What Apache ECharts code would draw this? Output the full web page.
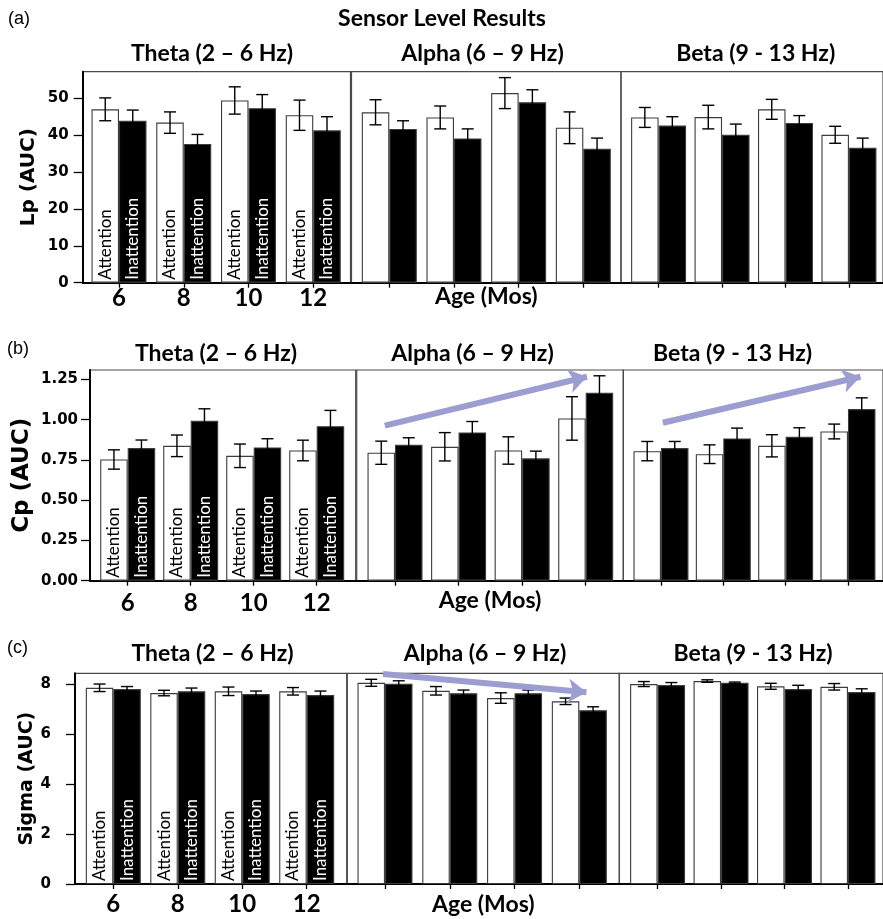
<!DOCTYPE html>
<html><head><meta charset="utf-8">
<script src="https://cdn.jsdelivr.net/npm/echarts@6/dist/echarts.min.js"></script>
<style>html,body{margin:0;padding:0;background:#fff}#c{width:883px;height:919px}</style>
</head><body><div id="c"></div>
<script>
// ---------------- DATA ----------------
const ages = ['6', '8', '10', '12'];
const groupNames = ['Attention', 'Inattention'];
const bandTitles = ['Theta (2 \u2013 6 Hz)', 'Alpha (6 \u2013 9 Hz)', 'Beta (9 - 13 Hz)'];

// (a) Lp (AUC)
const lpThetaAtt = [47.0, 43.4, 49.4, 45.4];   const lpThetaAttErr = [3.1, 2.9, 3.7, 4.1];
const lpThetaIn  = [43.9, 37.6, 47.3, 41.3];   const lpThetaInErr  = [2.9, 2.6, 3.7, 3.7];
const lpAlphaAtt = [46.2, 44.8, 51.4, 42.0];   const lpAlphaAttErr = [3.4, 3.1, 4.2, 4.3];
const lpAlphaIn  = [41.7, 39.1, 48.9, 36.3];   const lpAlphaInErr  = [2.2, 2.6, 3.4, 2.9];
const lpBetaAtt  = [44.8, 44.9, 47.0, 40.1];   const lpBetaAttErr  = [2.7, 3.2, 2.7, 2.3];
const lpBetaIn   = [42.6, 40.1, 43.3, 36.6];   const lpBetaInErr   = [2.4, 2.9, 2.0, 2.6];
const lpTicks = [0, 10, 20, 30, 40, 50];

// (b) Cp (AUC)
const cpThetaAtt = [0.753, 0.838, 0.776, 0.809]; const cpThetaAttErr = [0.060, 0.067, 0.073, 0.064];
const cpThetaIn  = [0.824, 0.993, 0.828, 0.960]; const cpThetaInErr  = [0.050, 0.075, 0.054, 0.098];
const cpAlphaAtt = [0.795, 0.832, 0.809, 1.008]; const cpAlphaAttErr = [0.072, 0.088, 0.085, 0.135];
const cpAlphaIn  = [0.844, 0.921, 0.760, 1.167]; const cpAlphaInErr  = [0.044, 0.068, 0.045, 0.106];
const cpBetaAtt  = [0.805, 0.786, 0.838, 0.927]; const cpBetaAttErr  = [0.060, 0.058, 0.069, 0.046];
const cpBetaIn   = [0.824, 0.884, 0.894, 1.066]; const cpBetaInErr   = [0.041, 0.064, 0.056, 0.070];
const cpTicks = [0, 0.25, 0.5, 0.75, 1.0, 1.25];
const cpAlphaArrow = [[-0.16, 0.963], [3.02, 1.267]];
const cpBetaArrow  = [[0.03, 0.981], [3.20, 1.267]];

// (c) Sigma (AUC)
const sgThetaAtt = [7.85, 7.64, 7.71, 7.71]; const sgThetaAttErr = [0.15, 0.11, 0.17, 0.15];
const sgThetaIn  = [7.80, 7.71, 7.60, 7.56]; const sgThetaInErr  = [0.10, 0.13, 0.12, 0.16];
const sgAlphaAtt = [8.05, 7.73, 7.44, 7.31]; const sgAlphaAttErr = [0.14, 0.17, 0.21, 0.13];
const sgAlphaIn  = [8.01, 7.63, 7.63, 6.95]; const sgAlphaInErr  = [0.12, 0.13, 0.13, 0.14];
const sgBetaAtt  = [8.00, 8.12, 7.91, 7.89]; const sgBetaAttErr  = [0.10, 0.05, 0.12, 0.13];
const sgBetaIn   = [7.96, 8.05, 7.80, 7.68]; const sgBetaInErr   = [0.10, 0.03, 0.15, 0.13];
const sgTicks = [0, 2, 4, 6, 8];
const sgAlphaArrow = [[-0.03, 8.40], [3.11, 7.67]];

// ---------------- LAYOUT ----------------
const rows = [
  { label: '(a)', labelPos: [8, 19], name: 'Lp (AUC)', nameSize: 20, nameGap: 44,
    top: 71.7, bottom: 282.7, max: 57.2, ticks: lpTicks, dec: 0, tickMargin: 14,
    xMargin: 4, ageGap: 2, titleY: 54,
    panels: [
      { att: lpThetaAtt, attE: lpThetaAttErr, inn: lpThetaIn, innE: lpThetaInErr, L: 82.7, R: 350.5, t0: 119, sp: 64.75, tx: 212 },
      { att: lpAlphaAtt, attE: lpAlphaAttErr, inn: lpAlphaIn, innE: lpAlphaInErr, L: 351.5, R: 621, t0: 389.3, sp: 64.67, tx: 482.5 },
      { att: lpBetaAtt, attE: lpBetaAttErr, inn: lpBetaIn, innE: lpBetaInErr, L: 621, R: 888, t0: 659.3, sp: 64.67, tx: 755.7 }
    ] },
  { label: '(b)', labelPos: [7, 349], name: 'Cp (AUC)', nameSize: 23, nameGap: 56,
    top: 370, bottom: 580.7, max: 1.309, ticks: cpTicks, dec: 2, tickMargin: 12,
    xMargin: 11, ageGap: 8, titleY: 354,
    panels: [
      { att: cpThetaAtt, attE: cpThetaAttErr, inn: cpThetaIn, innE: cpThetaInErr, L: 90, R: 355.7, t0: 127.7, sp: 63.0, tx: 216 },
      { att: cpAlphaAtt, attE: cpAlphaAttErr, inn: cpAlphaIn, innE: cpAlphaInErr, L: 356.7, R: 623.3, t0: 395, sp: 63.57, tx: 472.5, arrow: cpAlphaArrow },
      { att: cpBetaAtt, attE: cpBetaAttErr, inn: cpBetaIn, innE: cpBetaInErr, L: 623.3, R: 888, t0: 661.7, sp: 63.53, tx: 732.5, arrow: cpBetaArrow }
    ] },
  { label: '(c)', labelPos: [7, 648], name: 'Sigma (AUC)', nameSize: 19, nameGap: 36,
    top: 673.3, bottom: 884, max: 8.43, ticks: sgTicks, dec: 0, tickMargin: 24,
    xMargin: 8, ageGap: 9, titleY: 654,
    panels: [
      { att: sgThetaAtt, attE: sgThetaAttErr, inn: sgThetaIn, innE: sgThetaInErr, L: 75, R: 346.7, t0: 113.3, sp: 64.47, tx: 212.5 },
      { att: sgAlphaAtt, attE: sgAlphaAttErr, inn: sgAlphaIn, innE: sgAlphaInErr, L: 347.3, R: 619.3, t0: 385, sp: 64.77, tx: 485, arrow: sgAlphaArrow },
      { att: sgBetaAtt, attE: sgBetaAttErr, inn: sgBetaIn, innE: sgBetaInErr, L: 619.3, R: 888, t0: 658.3, sp: 64.67, tx: 753 }
    ] }
];

const BAR_W = 27.5;
const CAP = 6;
const ARROW_COLOR = '#9c9dd0';
const TITLE_FONT = 'Lato';

const grids = [], xAxes = [], yAxes = [], series = [], graphics = [];

graphics.push({ type: 'text', x: 442, y: 19, style: { text: 'Sensor Level Results', font: 'bold 23px ' + TITLE_FONT, fill: '#000', align: 'center', verticalAlign: 'middle' } });

function errSeries(gi, vals, errs, offset) {
  return {
    type: 'custom', xAxisIndex: gi, yAxisIndex: gi, z: 4, silent: true, animation: false,
    data: vals.map((v, i) => [i, v, errs[i]]),
    encode: { x: 0, y: 1 },
    renderItem: function (params, api) {
      const x = api.value(0), m = api.value(1), e = api.value(2);
      const hi = api.coord([x, m + e]);
      const lo = api.coord([x, m - e]);
      const cx = hi[0] + offset;
      const st = { stroke: '#000', lineWidth: 1.4 };
      return { type: 'group', children: [
        { type: 'line', shape: { x1: cx, y1: hi[1], x2: cx, y2: lo[1] }, style: st },
        { type: 'line', shape: { x1: cx - CAP, y1: hi[1], x2: cx + CAP, y2: hi[1] }, style: st },
        { type: 'line', shape: { x1: cx - CAP, y1: lo[1], x2: cx + CAP, y2: lo[1] }, style: st }
      ] };
    }
  };
}

rows.forEach((row, r) => {
  graphics.push({ type: 'text', x: row.labelPos[0], y: row.labelPos[1], style: { text: row.label, font: '18px "Liberation Sans"', fill: '#000', align: 'left', verticalAlign: 'middle' } });
  row.panels.forEach((p, c) => {
    const gi = r * 3 + c;
    grids.push({ left: p.L, top: row.top, width: p.R - p.L, height: row.bottom - row.top,
      show: true, borderColor: '#4a4a4a', borderWidth: 1.2, backgroundColor: 'transparent' });
    graphics.push({ type: 'text', x: p.tx, y: row.titleY, style: { text: bandTitles[c], font: 'bold 23px ' + TITLE_FONT, fill: '#000', align: 'center', verticalAlign: 'middle' } });
    xAxes.push({
      type: 'value', gridIndex: gi,
      min: (p.L - p.t0) / p.sp, max: (p.R - p.t0) / p.sp,
      axisLine: { show: true, onZero: false, lineStyle: { color: '#000', width: 2 } },
      axisTick: { show: true, customValues: [0, 1, 2, 3], length: 5, lineStyle: { color: '#000', width: 1.3 } },
      axisLabel: { show: c === 0, customValues: [0, 1, 2, 3], formatter: v => ages[Math.round(v)],
        fontFamily: TITLE_FONT, fontWeight: 'bold', fontSize: 24, color: '#000', margin: row.xMargin },
      splitLine: { show: false },
      name: c === 1 ? 'Age (Mos)' : '', nameLocation: 'middle', nameGap: row.ageGap,
      nameTextStyle: { fontFamily: TITLE_FONT, fontWeight: 'bold', fontSize: 23, color: '#000', verticalAlign: 'top' }
    });
    yAxes.push({
      type: 'value', gridIndex: gi, min: 0, max: row.max,
      axisLine: { show: c === 0, onZero: false, lineStyle: { color: '#000', width: 2 } },
      axisTick: { show: c === 0, customValues: row.ticks, length: 9, lineStyle: { color: '#000', width: 1.3 } },
      axisLabel: { show: c === 0, customValues: row.ticks, formatter: v => v.toFixed(row.dec),
        fontFamily: 'DejaVu Sans', fontWeight: 'bold', fontSize: 15, color: '#000', margin: row.tickMargin },
      splitLine: { show: false },
      name: c === 0 ? row.name : '', nameLocation: 'middle', nameGap: row.nameGap,
      nameTextStyle: { fontFamily: 'DejaVu Sans', fontWeight: 'bold', fontSize: row.nameSize, color: '#000' }
    });
    const lbl = (txt, col) => ({ show: c === 0, position: 'insideBottom', distance: 3, rotate: 90,
      align: 'left', verticalAlign: 'middle', formatter: txt, fontFamily: 'Lato', fontSize: 17, color: col });
    series.push({ type: 'bar', name: groupNames[0], xAxisIndex: gi, yAxisIndex: gi, barWidth: BAR_W, barGap: '0%',
      data: p.att.map((v, i) => [i, v]), animation: false, silent: true,
      itemStyle: { color: '#fff', borderColor: '#3c3c3c', borderWidth: 1.1 }, label: lbl(groupNames[0], '#000') });
    series.push({ type: 'bar', name: groupNames[1], xAxisIndex: gi, yAxisIndex: gi, barWidth: BAR_W, barGap: '0%',
      data: p.inn.map((v, i) => [i, v]), animation: false, silent: true,
      itemStyle: { color: '#000', borderColor: '#3c3c3c', borderWidth: 1.1 }, label: lbl(groupNames[1], '#fff') });
    series.push(errSeries(gi, p.att, p.attE, -BAR_W / 2));
    series.push(errSeries(gi, p.inn, p.innE, BAR_W / 2));
    if (p.arrow) {
      series.push({ type: 'line', xAxisIndex: gi, yAxisIndex: gi, data: [], z: 6, silent: true, animation: false,
        markLine: { silent: true, animation: false, symbol: ['none', 'arrow'], symbolSize: [18, 18],
          label: { show: false }, emphasis: { disabled: true },
          lineStyle: { color: ARROW_COLOR, width: 6, type: 'solid', opacity: 1 },
          data: [[{ coord: p.arrow[0] }, { coord: p.arrow[1] }]] } });
    }
  });
});

const chart = echarts.init(document.getElementById('c'), null, { renderer: 'canvas' });
chart.setOption({
  animation: false,
  backgroundColor: '#fff',
  grid: grids, xAxis: xAxes, yAxis: yAxes, series: series,
  graphic: { elements: graphics }
});
</script></body></html>
